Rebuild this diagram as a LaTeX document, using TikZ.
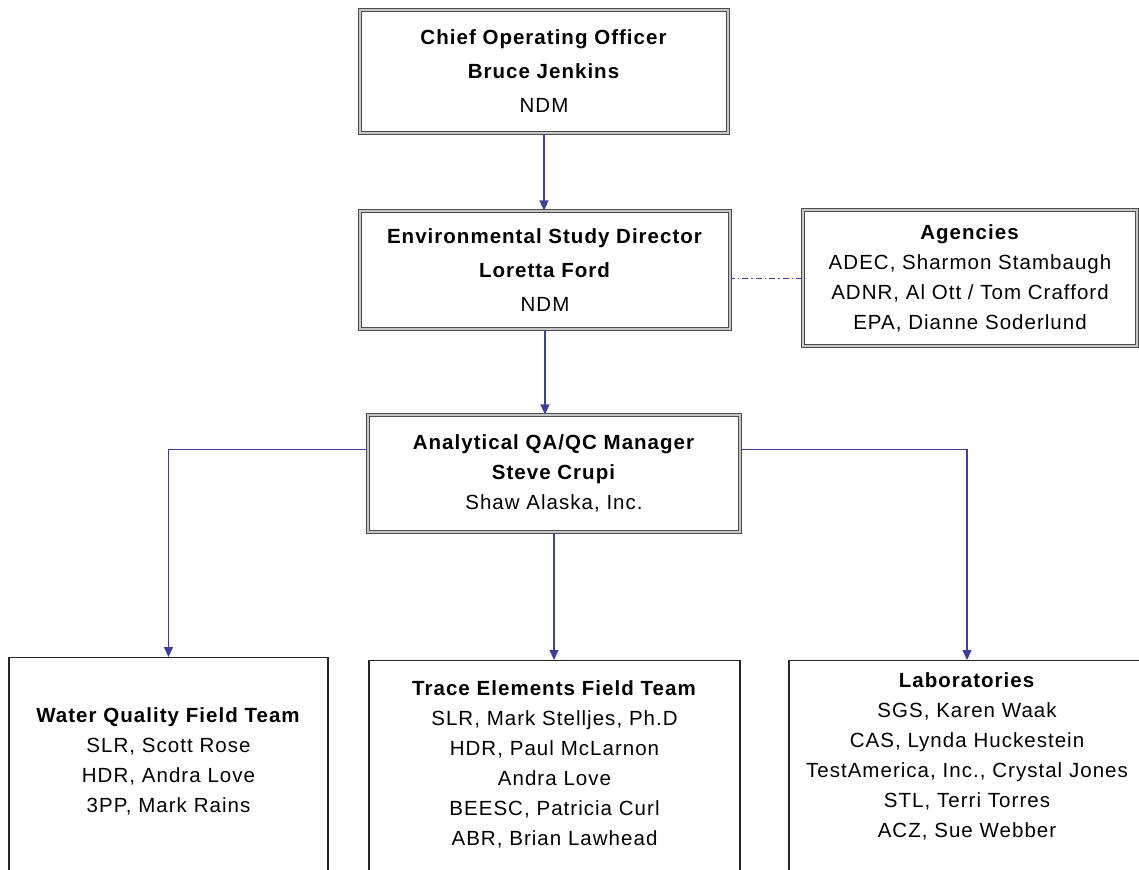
\documentclass[tikz,border=0pt]{standalone}
\usepackage{fontspec}
\setmainfont{Liberation Sans}[LetterSpace=5]
\usetikzlibrary{arrows.meta,positioning}

\definecolor{linkblue}{RGB}{62,62,155}

\begin{document}
\begin{tikzpicture}[x=1pt,y=1pt,
		font=\fontsize{20.5}{30}\selectfont,
		mgrbox/.style={draw=black!70, line width=1.1pt, double=gray!45, double distance=1.7pt, align=center, inner sep=0pt},
		teambox/.style={draw=black!85, line width=1.3pt, align=center, inner sep=0pt, anchor=north, text depth=230pt},
		link/.style={draw=linkblue, line width=1.1pt, -{Triangle[width=9pt,length=10pt]}},
		liaison/.style={draw=linkblue, line width=0.8pt, dash pattern=on 6pt off 3pt on 1.5pt off 3pt}]
		\useasboundingbox (0,0) rectangle (1139,-869);
		\clip (0,0) rectangle (1139,-869);
%		managers
		\node[mgrbox, minimum width=368, minimum height=123] (coo) at (544,-71.5)
			{\textbf{Chief Operating Officer}\\[4pt] \textbf{Bruce Jenkins}\\[4pt] NDM};
		\node[mgrbox, minimum width=370, minimum height=118] (esd) at (545,-270)
			{\textbf{Environmental Study Director}\\[4pt] \textbf{Loretta Ford}\\[4pt] NDM};
		\node[mgrbox, minimum width=334, minimum height=136] (agencies) at (970,-278)
			{\textbf{Agencies}\\ ADEC, Sharmon Stambaugh\\ ADNR, Al Ott / Tom Crafford\\ EPA, Dianne Soderlund};
		\node[mgrbox, minimum width=372, minimum height=117] (qaqc) at (554,-473.5)
			{\textbf{Analytical QA/QC Manager}\\ \textbf{Steve Crupi}\\ Shaw Alaska, Inc.};
%		teams
		\node[teambox, text width=319, text height=65pt] (wqteam) at (168.5,-657)
			{\textbf{Water Quality Field Team}\\ SLR, Scott Rose\\ HDR, Andra Love\\ 3PP, Mark Rains};
		\node[teambox, text width=371, text height=35pt] (teteam) at (554.5,-660)
			{\textbf{Trace Elements Field Team}\\ SLR, Mark Stelljes, Ph.D\\ HDR, Paul McLarnon\\ Andra Love\\ BEESC, Patricia Curl\\ ABR, Brian Lawhead};
		\node[teambox, text width=356, text height=27pt] (labs) at (967,-660)
			{\textbf{Laboratories}\\ SGS, Karen Waak\\ CAS, Lynda Huckestein\\ TestAmerica, Inc., Crystal Jones\\ STL, Terri Torres\\ ACZ, Sue Webber};
%		connectors
		\draw[link] (coo.south) -- (coo.south |- esd.north);
		\draw[link] (esd.south) -- (esd.south |- qaqc.north);
		\draw[liaison] (agencies.west) -- (agencies.west -| esd.east);
		\draw[link] ([yshift=24pt]qaqc.west) -| (wqteam.north);
		\draw[link] (qaqc.south) -- (qaqc.south |- teteam.north);
		\draw[link] ([yshift=24pt]qaqc.east) -| (labs.north);
	\end{tikzpicture}
\end{document}
